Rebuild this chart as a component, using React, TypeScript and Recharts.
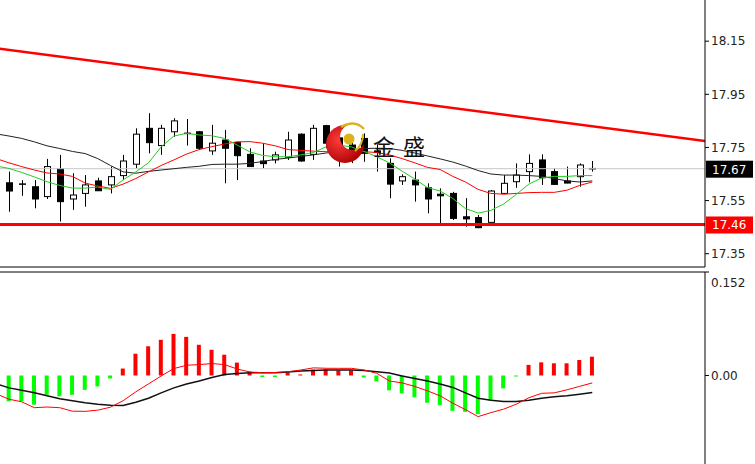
import React from 'react';
import { ComposedChart, Bar, Line, XAxis, YAxis, ReferenceLine, Cell } from 'recharts';

// bar slots: index -1 is the partly hidden bar at the left edge
const opens = [17.700, 17.617, 17.612, 17.602, 17.565, 17.669, 17.556, 17.577, 17.624, 17.609, 17.644,
  17.687, 17.822, 17.757, 17.809, 17.803, 17.809, 17.737, 17.778, 17.769, 17.724,
  17.699, 17.703, 17.713, 17.800, 17.724, 17.832, 17.786, 17.759, 17.784, 17.737,
  17.690, 17.624, 17.627, 17.598, 17.574, 17.577, 17.489, 17.486, 17.468, 17.577,
  17.621, 17.659, 17.703, 17.659, 17.624, 17.640, 17.670];
const highs = [17.760, 17.659, 17.627, 17.627, 17.707, 17.722, 17.653, 17.646, 17.636, 17.678, 17.722,
  17.822, 17.879, 17.835, 17.860, 17.857, 17.812, 17.835, 17.816, 17.772, 17.747,
  17.766, 17.734, 17.809, 17.803, 17.835, 17.835, 17.797, 17.778, 17.803, 17.762,
  17.709, 17.649, 17.659, 17.615, 17.596, 17.583, 17.559, 17.496, 17.590, 17.646,
  17.690, 17.724, 17.724, 17.672, 17.678, 17.690, 17.699];
const lows = [17.600, 17.508, 17.568, 17.521, 17.556, 17.471, 17.515, 17.527, 17.586, 17.577, 17.627,
  17.672, 17.728, 17.722, 17.790, 17.757, 17.740, 17.722, 17.615, 17.627, 17.678,
  17.672, 17.690, 17.703, 17.696, 17.703, 17.747, 17.678, 17.691, 17.696, 17.659,
  17.559, 17.609, 17.546, 17.502, 17.465, 17.477, 17.452, 17.446, 17.465, 17.577,
  17.598, 17.619, 17.609, 17.609, 17.615, 17.602, 17.659];
const closes = [17.660, 17.586, 17.610, 17.556, 17.678, 17.546, 17.571, 17.609, 17.587, 17.640, 17.699,
  17.800, 17.768, 17.822, 17.850, 17.800, 17.747, 17.766, 17.747, 17.719, 17.678,
  17.689, 17.722, 17.778, 17.699, 17.822, 17.766, 17.740, 17.733, 17.728, 17.731,
  17.612, 17.640, 17.609, 17.556, 17.568, 17.483, 17.481, 17.448, 17.586, 17.615,
  17.646, 17.690, 17.636, 17.611, 17.616, 17.684, 17.670];

const maFast = [17.680, 17.671, 17.656, 17.639, 17.621, 17.607, 17.597, 17.597, 17.601, 17.592, 17.628,
  17.658, 17.692, 17.752, 17.793, 17.803, 17.797, 17.794, 17.784, 17.759, 17.733,
  17.720, 17.715, 17.715, 17.722, 17.731, 17.752, 17.759, 17.752, 17.735, 17.715,
  17.692, 17.661, 17.631, 17.599, 17.586, 17.558, 17.520, 17.503, 17.513, 17.537,
  17.573, 17.612, 17.635, 17.641, 17.641, 17.644, 17.644];
const maMid = [17.708, 17.692, 17.678, 17.665, 17.654, 17.650, 17.641, 17.616, 17.605, 17.596, 17.612,
  17.633, 17.658, 17.682, 17.703, 17.725, 17.742, 17.753, 17.763, 17.771, 17.772,
  17.766, 17.756, 17.742, 17.739, 17.736, 17.734, 17.734, 17.734, 17.734, 17.731,
  17.722, 17.708, 17.692, 17.675, 17.667, 17.641, 17.620, 17.592, 17.577, 17.574,
  17.577, 17.580, 17.581, 17.581, 17.589, 17.607, 17.620];
const maSlow = [17.801, 17.793, 17.784, 17.771, 17.756, 17.746, 17.735, 17.727, 17.708, 17.682, 17.658,
  17.653, 17.660, 17.665, 17.670, 17.675, 17.679, 17.686, 17.687, 17.687, 17.690,
  17.697, 17.705, 17.710, 17.716, 17.722, 17.729, 17.735, 17.740, 17.746, 17.747,
  17.746, 17.739, 17.729, 17.718, 17.707, 17.695, 17.680, 17.663, 17.650, 17.646,
  17.646, 17.644, 17.641, 17.633, 17.624, 17.620, 17.624];

const macdHist = [-0.0350, -0.0378, -0.0378, -0.0429, -0.0284, -0.0305, -0.0284, -0.0211, -0.0160, -0.0044, 0.0102,
  0.0320, 0.0429, 0.0524, 0.0611, 0.0567, 0.0451, 0.0378, 0.0305, 0.0189, 0.0058,
  -0.0022, -0.0022, 0.0044, 0.0015, 0.0087, 0.0087, 0.0073, 0.0073, -0.0029, -0.0087,
  -0.0218, -0.0262, -0.0320, -0.0400, -0.0436, -0.0519, -0.0534, -0.0567, -0.0364, -0.0189,
  -0.0015, 0.0156, 0.0193, 0.0179, 0.0179, 0.0228, 0.0276];
const macdLine = [-0.0269, -0.0349, -0.0386, -0.0473, -0.0463, -0.0473, -0.0524, -0.0527, -0.0509, -0.0466, -0.0371,
  -0.0240, -0.0124, -0.0007, 0.0102, 0.0150, 0.0160, 0.0175, 0.0160, 0.0095, 0.0051,
  0.0041, 0.0044, 0.0055, 0.0080, 0.0112, 0.0106, 0.0105, 0.0105, 0.0080, 0.0032,
  -0.0080, -0.0109, -0.0160, -0.0226, -0.0298, -0.0407, -0.0502, -0.0604, -0.0546, -0.0495,
  -0.0422, -0.0327, -0.0262, -0.0255, -0.0211, -0.0160, -0.0109];
const signalLine = [-0.0124, -0.0182, -0.0218, -0.0255, -0.0298, -0.0342, -0.0371, -0.0400, -0.0422, -0.0436, -0.0439,
  -0.0393, -0.0335, -0.0255, -0.0182, -0.0124, -0.0080, -0.0029, 0.0015, 0.0029, 0.0039,
  0.0041, 0.0041, 0.0051, 0.0065, 0.0073, 0.0080, 0.0080, 0.0080, 0.0073, 0.0055,
  0.0036, -0.0007, -0.0044, -0.0080, -0.0124, -0.0175, -0.0255, -0.0335, -0.0364, -0.0381,
  -0.0381, -0.0364, -0.0335, -0.0313, -0.0298, -0.0276, -0.0250];

const priceTicks = [17.35, 17.55, 17.75, 17.95, 18.15];
const macdTicks = [0, 0.152];
const lastPrice = 17.67;
const supportLevel = 17.46;
const trendLine = [{ x: -1, y: 18.123 }, { x: 56, y: 17.767 }];

const X_DOMAIN: [number, number] = [-0.71, 54.89];
const FONT = 'DejaVu Sans, Verdana, sans-serif';

const rows = opens.map((o, k) => ({
  i: k - 1,
  open: o,
  high: highs[k],
  low: lows[k],
  close: closes[k],
  fast: maFast[k],
  mid: maMid[k],
  slow: maSlow[k],
  hist: macdHist[k],
  macd: macdLine[k],
  signal: signalLine[k],
}));

const Candle = (props: any) => {
  const { x, y, width, height, payload } = props;
  if (x == null || !payload) return null;
  const { open, close, high, low } = payload;
  const top = Math.min(y, y + height);
  const h = Math.abs(height);
  const py = (v: number) => top + ((high - v) / (high - low || 1)) * h;
  const cx = Math.round(x + width / 2) + 0.5;
  const bTop = py(Math.max(open, close));
  const bBot = py(Math.min(open, close));
  const up = close >= open;
  return (
    <g>
      <line x1={cx} x2={cx} y1={top} y2={top + h} stroke="#000" strokeWidth={1} />
      {bBot - bTop < 1.5 ? (
        <line x1={cx - 3.5} x2={cx + 3.5} y1={bTop} y2={bTop} stroke="#000" strokeWidth={1.5} />
      ) : (
        <rect x={cx - 3} y={bTop} width={6} height={bBot - bTop} fill={up ? '#fff' : '#000'} stroke="#000" strokeWidth={1} />
      )}
    </g>
  );
};

const PriceTag = ({ viewBox, text, bg }: any) => {
  if (!viewBox) return null;
  const { x, y, width } = viewBox;
  return (
    <g>
      <rect x={x + width + 1} y={y - 8} width={47} height={17} fill={bg} />
      <text x={x + width + 7} y={y + 5} fill="#fff" fontSize={12} fontFamily={FONT}>{text}</text>
    </g>
  );
};

const MacdTick = ({ x, y, payload }: any) => (
  <text x={x} y={y + (payload.value > 0 ? 10 : 0) + 5} fontSize={12} fill="#222" fontFamily={FONT}>
    {payload.value > 0 ? '0.152' : '0.00'}
  </text>
);

const Logo = () => (
  <svg width={755} height={464} style={{ position: 'absolute', left: 0, top: 0, pointerEvents: 'none' }}>
    <defs>
      <mask id="crescent">
        <rect x={0} y={0} width={755} height={464} fill="#fff" />
        <circle cx={353} cy={137} r={13} fill="#000" />
      </mask>
      <radialGradient id="redball" cx="35%" cy="40%" r="70%">
        <stop offset="0%" stopColor="#ff3b3b" />
        <stop offset="100%" stopColor="#a80000" />
      </radialGradient>
    </defs>
    <circle cx={345} cy={144} r={19} fill="url(#redball)" mask="url(#crescent)" />
    <circle cx={349} cy={139} r={5.5} fill="#d9b21c" />
    <path d="M 341 127 Q 355 119 364 129" stroke="#d9b21c" strokeWidth={2.5} fill="none" />
    <path d="M 363 134 Q 363 145 355 151" stroke="#d9b21c" strokeWidth={2} fill="none" />
    <g fontSize={22} fill="#111" fontFamily="'Noto Sans CJK SC', sans-serif">
      <text x={373} y={155}>金</text>
      <text x={403} y={155}>盛</text>
    </g>
  </svg>
);

export default function App() {
  return (
    <div style={{ position: 'absolute', left: 0, top: 0, width: 755, height: 464, overflow: 'hidden', background: '#fff' }}>
      <div style={{ position: 'absolute', left: 0, top: 0 }}>
        <ComposedChart width={755} height={268} data={rows} margin={{ top: 0, right: 0, bottom: 0, left: 0 }}>
          <XAxis dataKey="i" type="number" domain={X_DOMAIN} allowDataOverflow height={1}
            tick={false} tickLine={false} axisLine={{ stroke: '#000' }} />
          <YAxis orientation="right" width={50} domain={[17.30, 18.305]} allowDataOverflow ticks={priceTicks}
            interval={0} tickSize={4} tickFormatter={(v: number) => v.toFixed(2)}
            tick={{ fontSize: 12, fill: '#222', fontFamily: FONT }}
            axisLine={{ stroke: '#000' }} tickLine={{ stroke: '#000' }} />
          <ReferenceLine y={lastPrice} stroke="#c8c8c8" strokeWidth={1}
            label={(p: any) => <PriceTag {...p} text="17.67" bg="#000" />} />
          <Bar dataKey={(d: any) => [d.low, d.high]} barSize={7} isAnimationActive={false}
            shape={(p: any) => <Candle {...p} />} />
          <Line dataKey="slow" type="linear" stroke="#222" strokeWidth={1} dot={false} isAnimationActive={false} />
          <Line dataKey="mid" type="linear" stroke="#ff0000" strokeWidth={1} dot={false} isAnimationActive={false} />
          <Line dataKey="fast" type="linear" stroke="#22cc22" strokeWidth={1} dot={false} isAnimationActive={false} />
          <ReferenceLine y={supportLevel} stroke="#ff0000" strokeWidth={3}
            label={(p: any) => <PriceTag {...p} text="17.46" bg="#ff0000" />} />
          <ReferenceLine segment={trendLine} stroke="#ff0000" strokeWidth={2.5} ifOverflow="hidden" />
        </ComposedChart>
      </div>
      <div style={{ position: 'absolute', left: 0, top: 271 }}>
        <ComposedChart width={755} height={193} data={rows} margin={{ top: 0, right: 0, bottom: 0, left: 0 }}>
          <XAxis dataKey="i" type="number" orientation="top" domain={X_DOMAIN} allowDataOverflow height={1}
            tick={false} tickLine={false} axisLine={{ stroke: '#000' }} />
          <YAxis orientation="right" width={50} domain={[-0.130, 0.152]} allowDataOverflow ticks={macdTicks}
            interval={0} tickSize={4} tick={<MacdTick />}
            axisLine={{ stroke: '#000' }} tickLine={{ stroke: '#000' }} />
          <Bar dataKey="hist" barSize={4} isAnimationActive={false}>
            {rows.map((r) => (
              <Cell key={r.i} fill={r.hist >= 0 ? '#ff0000' : '#00ff00'} />
            ))}
          </Bar>
          <Line dataKey="signal" type="linear" stroke="#111" strokeWidth={1.5} dot={false} isAnimationActive={false} />
          <Line dataKey="macd" type="linear" stroke="#ff0000" strokeWidth={1} dot={false} isAnimationActive={false} />
        </ComposedChart>
      </div>
      <Logo />
    </div>
  );
}
